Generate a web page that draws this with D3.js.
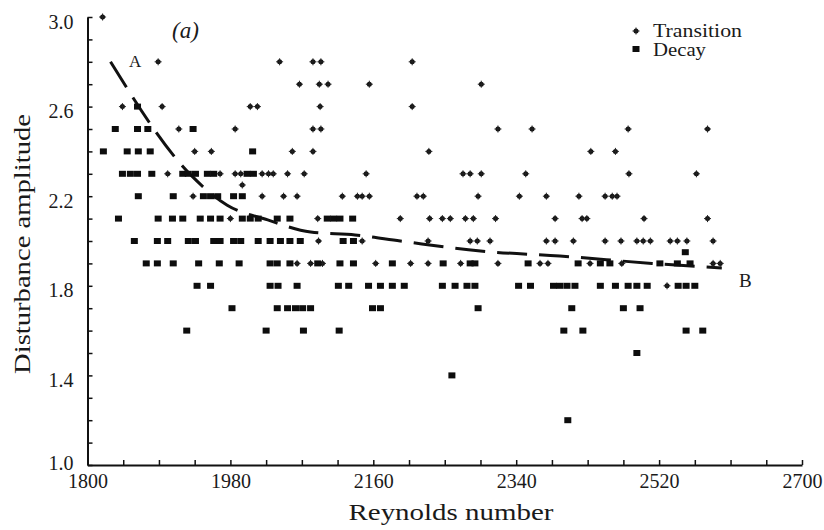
<!DOCTYPE html>
<html>
<head>
<meta charset="utf-8">
<script src="https://cdn.jsdelivr.net/npm/d3@7"></script>
<style>
  html, body { margin: 0; padding: 0; background: #fff; }
  svg { display: block; }
  text { font-family: "Liberation Serif", "Times New Roman", serif; fill: #1a1a1a; }
</style>
</head>
<body>
<svg id="chart" width="824" height="530"></svg>
<script>
// ---- data (Reynolds number, disturbance amplitude) ----
const transition = [
  [1819,3.0],
  [1889,2.8],[2042,2.8],[2084,2.8],[2094,2.8],[2209,2.8],
  [2067,2.7],[2092,2.7],[2103,2.7],[2155,2.7],[2296,2.7],
  [1844,2.6],[1894,2.6],[2005,2.6],[2014,2.6],[2093,2.6],[2209,2.6],
  [1915,2.5],[1986,2.5],[2084,2.5],[2094,2.5],[2317,2.5],[2360,2.5],[2481,2.5],[2581,2.5],
  [1935,2.4],[1956,2.4],[2058,2.4],[2084,2.4],[2230,2.4],[2434,2.4],[2465,2.4],
  [1901,2.3],[1967,2.3],[1986,2.3],[1993,2.3],[2020,2.3],[2028,2.3],[2034,2.3],[2052,2.3],
  [2073,2.3],[2151,2.3],[2273,2.3],[2282,2.3],[2296,2.3],[2352,2.3],[2482,2.3],[2567,2.3],
  [1995,2.25],
  [1933,2.2],[2020,2.2],[2047,2.2],[2064,2.2],[2121,2.2],[2140,2.2],[2146,2.2],[2155,2.2],
  [2215,2.2],[2223,2.2],[2292,2.2],[2344,2.2],[2378,2.2],[2419,2.2],[2452,2.2],[2461,2.2],[2467,2.2],
  [1980,2.1],[2090,2.1],[2194,2.1],[2231,2.1],[2247,2.1],[2257,2.1],[2276,2.1],[2286,2.1],
  [2314,2.1],[2389,2.1],[2423,2.1],[2429,2.1],[2501,2.1],[2581,2.1],
  [2091,2.0],[2146,2.0],[2229,2.0],[2282,2.0],[2291,2.0],[2307,2.0],[2378,2.0],[2389,2.0],
  [2412,2.0],[2452,2.0],[2472,2.0],[2492,2.0],[2500,2.0],[2509,2.0],[2534,2.0],[2543,2.0],
  [2555,2.0],[2588,2.0],
  [2064,1.9],[2081,1.9],[2096,1.9],[2163,1.9],[2207,1.9],[2229,1.9],[2270,1.9],[2317,1.9],
  [2370,1.9],[2380,1.9],[2433,1.9],[2473,1.9],[2588,1.9],[2597,1.9],
  [2530,1.8]
];
const decay = [
  [1863,2.6],
  [1835,2.5],[1863,2.5],[1876,2.5],[1933,2.5],
  [1820,2.4],[1850,2.4],[1864,2.4],[1879,2.4],[2008,2.4],
  [1844,2.3],[1854,2.3],[1863,2.3],[1881,2.3],[1920,2.3],[1927,2.3],[1936,2.3],[1951,2.3],
  [1959,2.3],[2001,2.3],[2009,2.3],
  [1864,2.2],[1908,2.2],[1946,2.2],[1955,2.2],[1964,2.2],[1984,2.2],[1995,2.2],
  [1839,2.1],[1889,2.1],[1907,2.1],[1920,2.1],[1942,2.1],[1955,2.1],[1967,2.1],[1995,2.1],
  [2005,2.1],[2015,2.1],[2039,2.1],[2055,2.1],[2102,2.1],[2110,2.1],[2118,2.1],[2134,2.1],
  [1859,2.0],[1888,2.0],[1901,2.0],[1927,2.0],[1936,2.0],[1959,2.0],[1967,2.0],[1984,2.0],
  [1993,2.0],[2015,2.0],[2030,2.0],[2043,2.0],[2055,2.0],[2068,2.0],[2122,2.0],[2135,2.0],
  [2553,1.95],
  [1874,1.9],[1888,1.9],[1908,1.9],[1940,1.9],[1966,1.9],[1991,1.9],[2030,1.9],[2039,1.9],
  [2055,1.9],[2090,1.9],[2118,1.9],[2135,1.9],[2184,1.9],[2248,1.9],[2282,1.9],[2288,1.9],
  [2355,1.9],[2418,1.9],[2446,1.9],[2458,1.9],[2521,1.9],[2543,1.9],[2559,1.9],
  [1938,1.8],[1955,1.8],[2030,1.8],[2040,1.8],[2064,1.8],[2116,1.8],[2129,1.8],[2154,1.8],
  [2169,1.8],[2184,1.8],[2199,1.8],[2247,1.8],[2263,1.8],[2278,1.8],[2288,1.8],[2343,1.8],
  [2358,1.8],[2387,1.8],[2395,1.8],[2404,1.8],[2414,1.8],[2446,1.8],[2465,1.8],[2481,1.8],
  [2492,1.8],[2505,1.8],[2544,1.8],[2554,1.8],[2565,1.8],
  [1982,1.7],[2039,1.7],[2052,1.7],[2062,1.7],[2071,1.7],[2081,1.7],[2159,1.7],[2169,1.7],
  [2292,1.7],[2410,1.7],[2475,1.7],[2496,1.7],
  [1925,1.6],[2025,1.6],[2072,1.6],[2117,1.6],[2400,1.6],[2424,1.6],[2554,1.6],[2575,1.6],
  [2492,1.5],
  [2259,1.4],
  [2405,1.2]
];
// boundary curve A-B
const curveAB = [
  [1829,2.80],[1930,2.295],[1976,2.16],[2027,2.094],[2081,2.04],[2137,2.027],
  [2194,2.0],[2295,1.955],[2395,1.933],[2511,1.90],[2599,1.88]
];
const xTickLabels = [1800, 1980, 2160, 2340, 2520, 2700];
const yTickLabels = [1.0, 1.4, 1.8, 2.2, 2.6, 3.0];
const xMinorTicks = d3.range(1800, 2701, 45);
const yMinorTicks = d3.range(10, 31).map(v => v / 10);
const seriesNames = ["Transition", "Decay"];

// ---- scales ----
const x = d3.scaleLinear().domain([1800, 2700]).range([87.5, 802]);
const y = d3.scaleLinear().domain([1.0, 3.0]).range([465, 17]);

const svg = d3.select("#chart");
const serif = "'Liberation Serif', 'Times New Roman', serif";

// ---- axes ----
const xAxis = d3.axisBottom(x)
  .tickValues(xMinorTicks)
  .tickSizeInner(-5).tickSizeOuter(0).tickPadding(9)
  .tickFormat(d => xTickLabels.includes(d) ? String(d) : "");
const gx = svg.append("g").attr("transform", `translate(0,${y(1.0)})`).call(xAxis);
gx.attr("font-family", serif);
gx.select(".domain").attr("stroke", "#111").attr("stroke-width", 2);
gx.selectAll(".tick line").attr("stroke", "#111").attr("stroke-width", 1.5);
gx.selectAll(".tick text").attr("font-size", 20).attr("fill", "#1a1a1a");

const yAxis = d3.axisLeft(y)
  .tickValues(yMinorTicks)
  .tickSizeInner(-5).tickSizeOuter(0).tickPadding(14)
  .tickFormat(d => yTickLabels.some(v => Math.abs(v - d) < 1e-9) ? d3.format(".1f")(d) : "");
const gy = svg.append("g").attr("transform", `translate(${x(1800)},0)`).call(yAxis);
gy.attr("font-family", serif);
gy.select(".domain").attr("stroke", "#111").attr("stroke-width", 2);
gy.selectAll(".tick line").attr("stroke", "#111").attr("stroke-width", 1.5);
gy.selectAll(".tick text").attr("font-size", 20).attr("fill", "#1a1a1a")
  .attr("dy", d => Math.abs(d - 1.0) < 1e-9 ? "0.2em" : "0.55em");

// ---- axis titles ----
svg.append("text")
  .attr("x", 451).attr("y", 520)
  .attr("text-anchor", "middle")
  .attr("font-size", 24)
  .attr("textLength", 205).attr("lengthAdjust", "spacingAndGlyphs")
  .text("Reynolds number");

svg.append("text")
  .attr("transform", "translate(30,244) rotate(-90)")
  .attr("text-anchor", "middle")
  .attr("font-size", 24)
  .attr("textLength", 260).attr("lengthAdjust", "spacingAndGlyphs")
  .text("Disturbance amplitude");

// ---- dashed boundary ----
const line = d3.line().x(d => x(d[0])).y(d => y(d[1])).curve(d3.curveMonotoneX);
svg.append("path")
  .datum(curveAB)
  .attr("d", line)
  .attr("fill", "none")
  .attr("stroke", "#111")
  .attr("stroke-width", 3)
  .attr("stroke-dasharray", "30,12");

// ---- markers ----
function drawTransition(g) {
  g.append("circle").attr("r", 2.5).attr("fill", "#111");
  g.append("path").attr("d", "M-3.5,0H3.5M0,-3.5V3.5").attr("stroke", "#222").attr("stroke-width", 1);
}
const tG = svg.append("g").attr("class", "transition");
tG.selectAll("g").data(transition).join("g")
  .attr("transform", d => `translate(${x(d[0])},${y(d[1])})`)
  .each(function() { drawTransition(d3.select(this)); });

const dG = svg.append("g").attr("class", "decay");
dG.selectAll("rect").data(decay).join("rect")
  .attr("x", d => x(d[0]) - 3.5).attr("y", d => y(d[1]) - 3)
  .attr("width", 7).attr("height", 6)
  .attr("fill", "#0d0d0d");

// ---- labels ----
svg.append("text").attr("x", 172).attr("y", 38).attr("font-size", 23)
  .attr("font-style", "italic").text("(a)");
svg.append("text").attr("x", 129).attr("y", 67).attr("font-size", 17).text("A");
svg.append("text").attr("x", 739).attr("y", 287).attr("font-size", 19).text("B");

// ---- legend ----
const lg = svg.append("g");
drawTransition(lg.append("g").attr("transform", "translate(636,31)"));
lg.append("rect").attr("x", 632.5).attr("y", 46).attr("width", 7).attr("height", 6).attr("fill", "#0d0d0d");
lg.append("text").attr("x", 653).attr("y", 37).attr("font-size", 19)
  .attr("textLength", 89).attr("lengthAdjust", "spacingAndGlyphs").text(seriesNames[0]);
lg.append("text").attr("x", 653).attr("y", 56).attr("font-size", 19)
  .attr("textLength", 53).attr("lengthAdjust", "spacingAndGlyphs").text(seriesNames[1]);
</script>
</body>
</html>
